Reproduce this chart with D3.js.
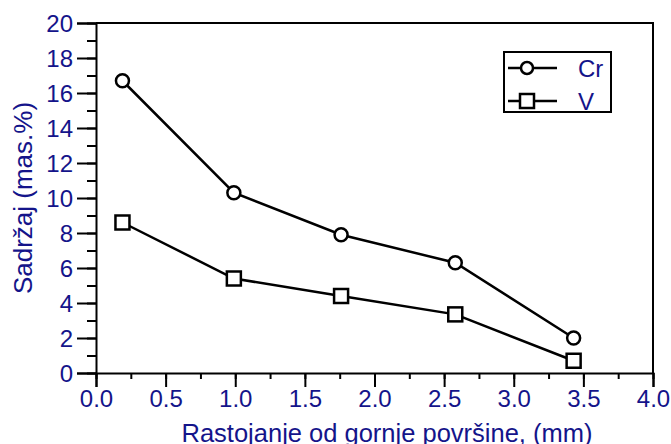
<!DOCTYPE html>
<html>
<head>
<meta charset="utf-8">
<script src="https://cdn.jsdelivr.net/npm/d3@7"></script>
<style>
  body { margin: 0; background: #fff; }
  text { font-family: "Liberation Sans", Arial, sans-serif; }
</style>
</head>
<body>
<svg width="671" height="444"></svg>
<script>
// data
let distances = [0.19, 0.99, 1.76, 2.58, 3.43];
let crValues = [16.7, 10.3, 7.9, 6.3, 2.0];
let vValues = [8.6, 5.4, 4.4, 3.35, 0.7];
let seriesNames = ['Cr', 'V'];
let xTicks = [0, 0.5, 1, 1.5, 2, 2.5, 3, 3.5, 4];
let yTicks = [0, 2, 4, 6, 8, 10, 12, 14, 16, 18, 20];

let svg = d3.select('svg');
let width = +svg.attr('width');
let height = +svg.attr('height');

let padding = { t: 23, r: 18, b: 71, l: 96 };
let chartWidth = width - padding.l - padding.r;
let chartHeight = height - padding.t - padding.b;

let labelColor = '#14148a';

let xScale = d3.scaleLinear().domain([0, 4]).range([padding.l, padding.l + chartWidth]);
let yScale = d3.scaleLinear().domain([0, 20]).range([padding.t + chartHeight, padding.t]);

// frame (top + right)
svg.append('path')
    .attr('d', 'M' + padding.l + ',' + padding.t + 'H' + (padding.l + chartWidth) + 'V' + (padding.t + chartHeight))
    .attr('fill', 'none')
    .attr('stroke', '#000')
    .attr('stroke-width', 2);

// minor ticks first
let xAxisMinor = d3.axisBottom(xScale).tickValues(d3.range(0, 4.01, 0.25)).tickSize(6).tickFormat('');
svg.append('g')
    .attr('transform', 'translate(0,' + (padding.t + chartHeight) + ')')
    .call(xAxisMinor)
    .call(g => g.select('.domain').remove());

let yAxisMinor = d3.axisLeft(yScale).tickValues(d3.range(0, 20.01, 1)).tickSize(9).tickFormat('');
svg.append('g')
    .attr('transform', 'translate(' + padding.l + ',0)')
    .call(yAxisMinor)
    .call(g => g.select('.domain').remove());

let xAxis = d3.axisBottom(xScale).tickValues(xTicks).tickSize(14).tickPadding(4)
    .tickFormat(d3.format('.1f'));
let xG = svg.append('g')
    .attr('transform', 'translate(0,' + (padding.t + chartHeight) + ')')
    .call(xAxis);

let yAxis = d3.axisLeft(yScale).tickValues(yTicks).tickSize(19).tickPadding(4)
    .tickFormat(d3.format('d'));
let yG = svg.append('g')
    .attr('transform', 'translate(' + padding.l + ',0)')
    .call(yAxis);

svg.selectAll('.tick line').attr('stroke', '#000').attr('stroke-width', 2);
svg.selectAll('.domain').attr('stroke', '#000').attr('stroke-width', 2);
svg.selectAll('.tick text')
    .attr('fill', labelColor)
    .attr('font-size', '24px')
    .attr('font-family', '"Liberation Sans", Arial, sans-serif');
xG.selectAll('.tick text').attr('dy', '0.68em');
yG.selectAll('.tick text').attr('dy', '0.36em');

// axis titles
svg.append('text')
    .attr('x', 387)
    .attr('y', 442)
    .attr('text-anchor', 'middle')
    .attr('fill', labelColor)
    .attr('font-size', '25.5px')
    .text('Rastojanje od gornje površine, (mm)');

svg.append('text')
    .attr('transform', 'translate(32,' + 198 + ') rotate(-90)')
    .attr('text-anchor', 'middle')
    .attr('fill', labelColor)
    .attr('font-size', '26px')
    .text('Sadržaj (mas.%)');

let line = d3.line()
    .x(d => xScale(d[0]))
    .y(d => yScale(d[1]));

let crData = distances.map((d, i) => [d, crValues[i]]);
let vData = distances.map((d, i) => [d, vValues[i]]);

let chartG = svg.append('g');

chartG.append('path').datum(crData)
    .attr('d', line).attr('fill', 'none').attr('stroke', '#000').attr('stroke-width', 2.5);
chartG.append('path').datum(vData)
    .attr('d', line).attr('fill', 'none').attr('stroke', '#000').attr('stroke-width', 2.5);

chartG.selectAll('.cr').data(crData).enter().append('circle')
    .attr('class', 'cr')
    .attr('cx', d => xScale(d[0]))
    .attr('cy', d => yScale(d[1]))
    .attr('r', 6.5)
    .attr('fill', '#fff')
    .attr('stroke', '#000')
    .attr('stroke-width', 2.5);

chartG.selectAll('.v').data(vData).enter().append('rect')
    .attr('class', 'v')
    .attr('x', d => xScale(d[0]) - 7)
    .attr('y', d => yScale(d[1]) - 7)
    .attr('width', 14)
    .attr('height', 14)
    .attr('fill', '#fff')
    .attr('stroke', '#000')
    .attr('stroke-width', 2.5);

// legend
let legend = svg.append('g').attr('transform', 'translate(504,52)');
legend.append('rect')
    .attr('width', 107).attr('height', 60)
    .attr('fill', '#fff').attr('stroke', '#000').attr('stroke-width', 2);

seriesNames.forEach((name, i) => {
    let y = 16 + i * 33;
    legend.append('line')
        .attr('x1', 4).attr('x2', 53).attr('y1', y).attr('y2', y)
        .attr('stroke', '#000').attr('stroke-width', 2.5);
    if (i === 0) {
        legend.append('circle').attr('cx', 23).attr('cy', y).attr('r', 6)
            .attr('fill', '#fff').attr('stroke', '#000').attr('stroke-width', 2.5);
    } else {
        legend.append('rect').attr('x', 16).attr('y', y - 7).attr('width', 14).attr('height', 14)
            .attr('fill', '#fff').attr('stroke', '#000').attr('stroke-width', 2.5);
    }
    legend.append('text')
        .attr('x', 74).attr('y', y + 9)
        .attr('fill', labelColor)
        .attr('font-size', '24px')
        .text(name);
});
</script>
</body>
</html>
